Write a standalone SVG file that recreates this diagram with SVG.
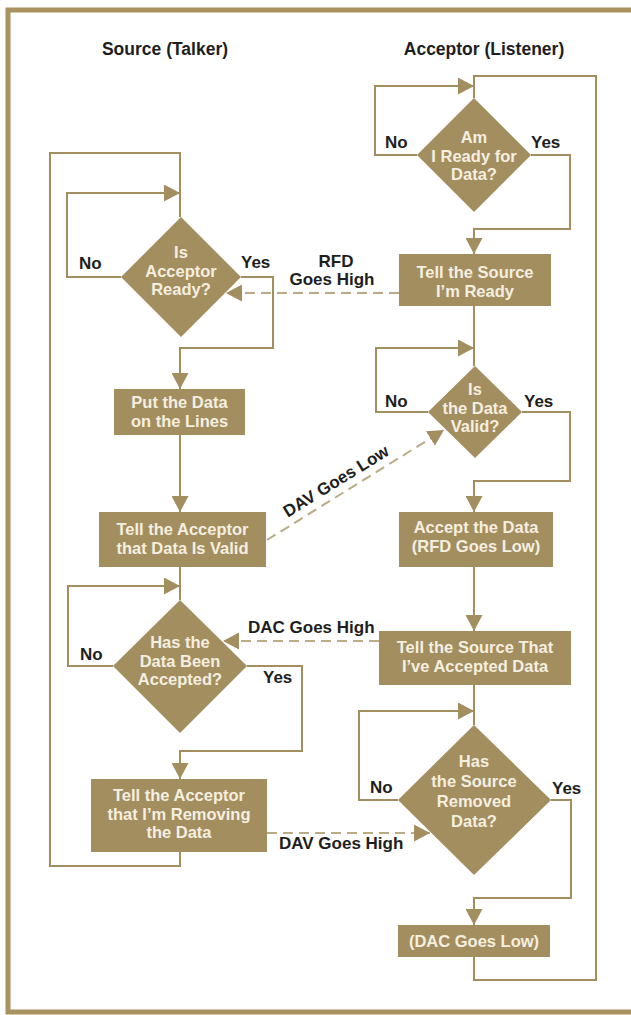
<svg xmlns="http://www.w3.org/2000/svg" width="631" height="1015" viewBox="0 0 631 1015">
<style>
.n{fill:#a38e5f}
.c{stroke:#a38e5f;stroke-width:2;fill:none}
.d{stroke:#b9ab86;stroke-width:2;fill:none;stroke-dasharray:10 6}
.t{fill:#f5efe0;font-family:"Liberation Sans",Arial,sans-serif;font-weight:bold;font-size:16.5px;text-anchor:middle}
.l{fill:#1e1e1e;font-family:"Liberation Sans",Arial,sans-serif;font-weight:bold;font-size:17px}
.h{fill:#1e1e1e;font-family:"Liberation Sans",Arial,sans-serif;font-weight:bold;font-size:17.5px;text-anchor:middle}
</style>
<defs>
<marker id="a" viewBox="0 0 16 17" refX="16" refY="8.5" markerWidth="16" markerHeight="17" markerUnits="userSpaceOnUse" orient="auto">
<path d="M0,0 L16,8.5 L0,17 z" fill="#a38e5f"/>
</marker>
</defs>
<rect width="631" height="1015" fill="#ffffff"/>
<path d="M631,10 H8 V1012 H631" fill="none" stroke="#a8925f" stroke-width="5"/>
<text class="h" x="165" y="55">Source (Talker)</text>
<text class="h" x="484" y="55">Acceptor (Listener)</text>

<g id="connectors">
<path class="c" d="M180,852 V866 H50 V153 H180 V217"/>
<path class="c" d="M121,277 H67 V193 H180" marker-end="url(#a)"/>
<path class="c" d="M241,277 H273 V348 H180 V389" marker-end="url(#a)"/>
<path class="c" d="M180,435 V512" marker-end="url(#a)"/>
<path class="c" d="M180,567 V600"/>
<path class="c" d="M113,666 H68 V586 H180" marker-end="url(#a)"/>
<path class="c" d="M247,666 H302 V751 H180 V779" marker-end="url(#a)"/>
<path class="c" d="M474,957 V980 H596 V76 H474 V98"/>
<path class="c" d="M417,155 H375 V86 H474" marker-end="url(#a)"/>
<path class="c" d="M531,155 H570 V229 H474 V254" marker-end="url(#a)"/>
<path class="c" d="M474,306 V366"/>
<path class="c" d="M428,412 H376 V348 H474" marker-end="url(#a)"/>
<path class="c" d="M522,412 H570 V481 H474 V512" marker-end="url(#a)"/>
<path class="c" d="M474,567 V631" marker-end="url(#a)"/>
<path class="c" d="M474,685 V725"/>
<path class="c" d="M398,800 H359 V711 H474" marker-end="url(#a)"/>
<path class="c" d="M551,800 H571 V898 H474 V925" marker-end="url(#a)"/>
<path class="d" d="M399,293 H226" marker-end="url(#a)"/>
<path class="d" d="M267,540 L444,430" marker-end="url(#a)"/>
<path class="d" d="M379,641 H223" marker-end="url(#a)"/>
<path class="d" d="M267,833 H430" marker-end="url(#a)"/>
<text class="l" x="79" y="269">No</text>
<text class="l" x="241" y="268">Yes</text>
<text class="l" x="336" y="267" text-anchor="middle">RFD</text>
<text class="l" x="332" y="285" text-anchor="middle">Goes High</text>
<text class="l" x="385" y="148">No</text>
<text class="l" x="531" y="148">Yes</text>
<text class="l" x="385" y="407">No</text>
<text class="l" x="524" y="407">Yes</text>
<text class="l" x="339" y="486" text-anchor="middle" transform="rotate(-31.8 339 486)">DAV Goes Low</text>
<text class="l" x="80" y="660">No</text>
<text class="l" x="263" y="683">Yes</text>
<text class="l" x="248" y="633">DAC Goes High</text>
<text class="l" x="370" y="793">No</text>
<text class="l" x="552" y="794">Yes</text>
<text class="l" x="279" y="849">DAV Goes High</text>
</g>

<g id="n-acceptor-ready">
<polygon class="n" points="181,217 241,277 181,337 121,277"/>
<text class="t" x="181" y="258">Is</text>
<text class="t" x="181" y="277">Acceptor</text>
<text class="t" x="181" y="295">Ready?</text>
</g>
<g id="n-put-data">
<rect class="n" x="114" y="389" width="131" height="46"/>
<text class="t" x="179.5" y="408">Put the Data</text>
<text class="t" x="179.5" y="427">on the Lines</text>
</g>
<g id="n-data-valid">
<rect class="n" x="99" y="512" width="167" height="55"/>
<text class="t" x="182.5" y="535">Tell the Acceptor</text>
<text class="t" x="182.5" y="554">that Data Is Valid</text>
</g>
<g id="n-accepted">
<polygon class="n" points="180,600 247,666 180,733 113,666"/>
<text class="t" x="180" y="648">Has the</text>
<text class="t" x="180" y="667">Data Been</text>
<text class="t" x="180" y="685">Accepted?</text>
</g>
<g id="n-removing">
<rect class="n" x="91" y="779" width="176" height="73"/>
<text class="t" x="179" y="801">Tell the Acceptor</text>
<text class="t" x="179" y="820">that I’m Removing</text>
<text class="t" x="179" y="838">the Data</text>
</g>
<g id="n-ready-for-data">
<polygon class="n" points="474,98 531,155 474,212 417,155"/>
<text class="t" x="474" y="143">Am</text>
<text class="t" x="474" y="162">I Ready for</text>
<text class="t" x="474" y="180">Data?</text>
</g>
<g id="n-im-ready">
<rect class="n" x="399" y="254" width="152" height="52"/>
<text class="t" x="475" y="278">Tell the Source</text>
<text class="t" x="475" y="297">I’m Ready</text>
</g>
<g id="n-is-valid">
<polygon class="n" points="475,366 522,412 475,458 428,412"/>
<text class="t" x="475" y="395">Is</text>
<text class="t" x="475" y="414">the Data</text>
<text class="t" x="475" y="432">Valid?</text>
</g>
<g id="n-accept">
<rect class="n" x="399" y="512" width="154" height="55"/>
<text class="t" x="476" y="533">Accept the Data</text>
<text class="t" x="476" y="552">(RFD Goes Low)</text>
</g>
<g id="n-accepted-data">
<rect class="n" x="379" y="631" width="192" height="54"/>
<text class="t" x="475" y="653">Tell the Source That</text>
<text class="t" x="475" y="672">I’ve Accepted Data</text>
</g>
<g id="n-removed">
<polygon class="n" points="474,725 551,800 474,875 398,800"/>
<text class="t" x="474" y="767">Has</text>
<text class="t" x="474" y="787">the Source</text>
<text class="t" x="474" y="807">Removed</text>
<text class="t" x="474" y="827">Data?</text>
</g>
<g id="n-dac-low">
<rect class="n" x="398" y="925" width="152" height="32"/>
<text class="t" x="474" y="947">(DAC Goes Low)</text>
</g>
</svg>
